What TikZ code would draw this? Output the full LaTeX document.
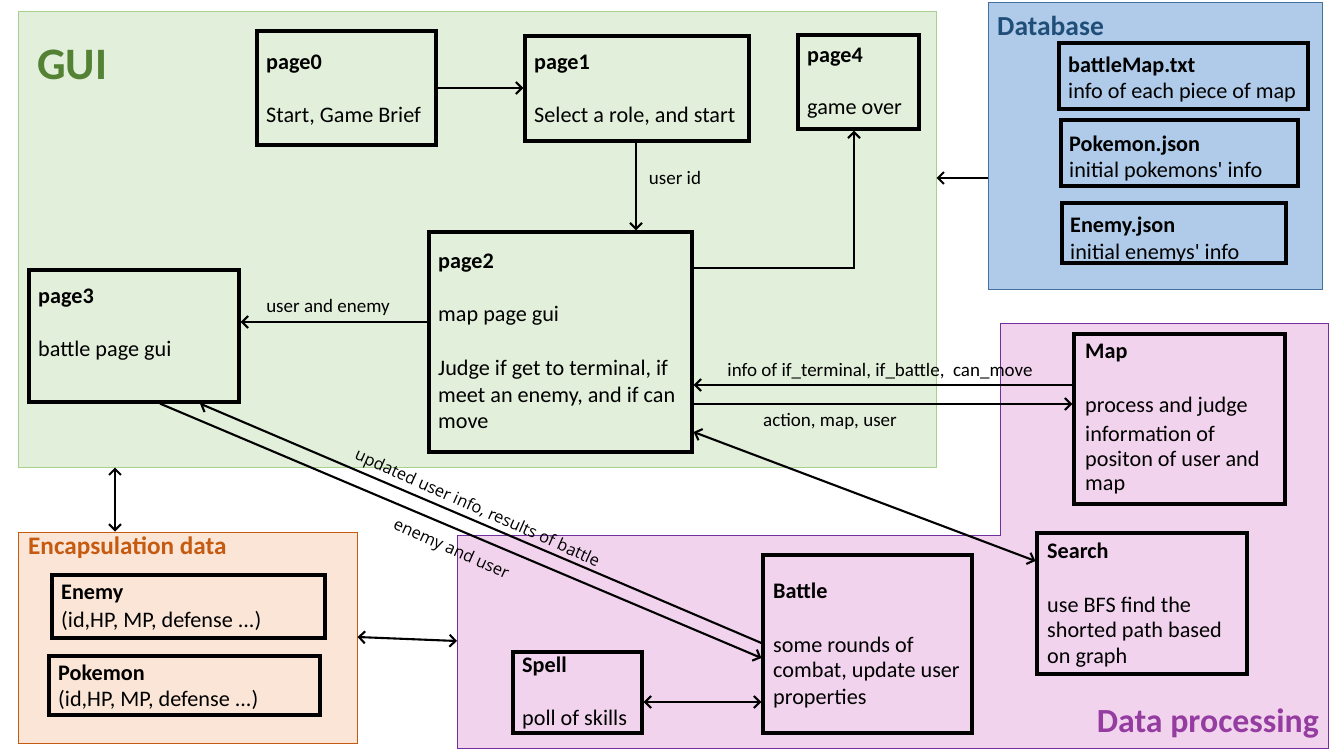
\documentclass[tikz,border=0pt]{standalone}
\usepackage{fontspec}
\setmainfont{Carlito}
\newfontfamily\lblfont{Open Sans}
\usetikzlibrary{arrows.meta}
\definecolor{guifill}{HTML}{E2EFDA}
\definecolor{guiline}{HTML}{A9D18E}
\definecolor{guititle}{HTML}{548235}
\definecolor{dbfill}{HTML}{AFCBE9}
\definecolor{dbline}{HTML}{41719C}
\definecolor{dbtitle}{HTML}{1F4E79}
\definecolor{dpfill}{HTML}{F2D3EE}
\definecolor{dpline}{HTML}{7030A0}
\definecolor{dptitle}{HTML}{943CA0}
\definecolor{enfill}{HTML}{FBE5D6}
\definecolor{enline}{HTML}{C55A11}
\begin{document}
\begin{tikzpicture}[x=1pt,y=-1pt,
  region/.style={draw,line width=1pt,inner sep=0pt},
  box/.style={draw=black,line width=3.2pt,inner sep=0pt},
  txt/.style={anchor=west,inner sep=0pt,font=\fontsize{22.2}{24}\selectfont},
  hdr/.style={anchor=west,inner sep=0pt,font=\fontsize{22.2}{24}\selectfont\bfseries},
  lbl/.style={inner sep=1pt,font=\fontsize{19}{21}\selectfont},
  rlbl/.style={inner sep=1pt,font=\lblfont\fontsize{16.5}{19}\selectfont},
  conn/.style={line width=2.1pt,-{Straight Barb[length=6pt,width=12pt,line width=2.1pt]}},
  dconn/.style={line width=2.1pt,{Straight Barb[length=6pt,width=12pt,line width=2.1pt]}-{Straight Barb[length=6pt,width=12pt,line width=2.1pt]}}]
\useasboundingbox[fill=white] (0,0) rectangle (1341,754);
% regions
\node[region,draw=guiline,fill=guifill,minimum width=918pt,minimum height=455pt] (gui) at (477,239.5) {};
\node[region,draw=dbline,fill=dbfill,minimum width=334pt,minimum height=286pt] (db) at (1155,146) {};
\node[region,draw=enline,fill=enfill,minimum width=339pt,minimum height=211pt] (encap) at (187.5,637.5) {};
\draw[line width=1pt,draw=dpline,fill=dpfill] (1000,323) -- (1328,323) -- (1328,748) -- (457,748) -- (457,535) -- (1000,535) -- cycle;
\coordinate (dpw) at (457,641);
% titles
\node[anchor=west,inner sep=0pt,text=guititle,font=\fontsize{45}{50}\selectfont\bfseries] (tgui) at (37,65) {GUI};
\node[anchor=west,inner sep=0pt,text=dbtitle,font=\fontsize{27.5}{30}\selectfont\bfseries] (tdb) at (997,26) {Database};
\node[anchor=west,inner sep=0pt,text=enline,font=\fontsize{25.2}{28}\selectfont\bfseries] (ten) at (28,548) {Encapsulation data};
\node[anchor=east,inner sep=0pt,text=dptitle,font=\fontsize{33.8}{37}\selectfont\bfseries] (tdp) at (1319,723) {Data processing};
% boxes
\node[box,minimum width=179pt,minimum height=114pt] (page0) at (346.5,88) {};
\node[hdr] (page0h) at (266,64) {page0};
\node[txt] (page0t) at (266,116) {Start, Game Brief};
\node[box,minimum width=224pt,minimum height=105pt] (page1) at (637,88.5) {};
\node[hdr] (page1h) at (534,64) {page1};
\node[txt] (page1t) at (534,116) {Select a role, and start};
\node[box,minimum width=121pt,minimum height=94pt] (page4) at (858.5,82) {};
\node[hdr] (page4h) at (807,57) {page4};
\node[txt] (page4t) at (807,111) {game over};
\node[box,minimum width=263pt,minimum height=220pt] (page2) at (560.5,342) {};
\node[hdr] (page2h) at (438,263) {page2};
\node[txt] (page2t1) at (438,316) {map page gui};
\node[txt] (page2t2) at (438,370) {Judge if get to terminal, if};
\node[txt] (page2t3) at (438,397) {meet an enemy, and if can};
\node[txt] (page2t4) at (438,423) {move};
\node[box,minimum width=210pt,minimum height=132pt] (page3) at (134,336) {};
\node[hdr] (page3h) at (38,298) {page3};
\node[txt] (page3t) at (38,351) {battle page gui};
\node[box,minimum width=249pt,minimum height=66pt] (bmap) at (1183.5,76) {};
\node[hdr] (bmaph) at (1068,66) {battleMap.txt};
\node[txt] (bmapt) at (1068,93) {info of each piece of map};
\node[box,minimum width=237pt,minimum height=66pt] (pjson) at (1179.5,153) {};
\node[hdr] (pjsonh) at (1069,146) {Pokemon.json};
\node[txt] (pjsont) at (1069,172) {initial pokemons\textquotesingle\ info};
\node[box,minimum width=224pt,minimum height=60pt] (ejson) at (1174,233) {};
\node[hdr] (ejsonh) at (1070,227) {Enemy.json};
\node[txt] (ejsont) at (1070,254) {initial enemys\textquotesingle\ info};
\node[box,minimum width=211pt,minimum height=170pt] (map) at (1179.5,419) {};
\node[hdr] (maph) at (1085,353) {Map};
\node[txt] (mapt1) at (1085,407) {process and judge};
\node[txt] (mapt2) at (1085,434) {information of};
\node[txt] (mapt3) at (1085,461) {positon of user and};
\node[txt] (mapt4) at (1085,487) {map};
\node[box,minimum width=210pt,minimum height=141pt] (search) at (1142,603.5) {};
\node[hdr] (searchh) at (1047,551) {Search};
\node[txt] (searcht1) at (1047,605) {use BFS find the};
\node[txt] (searcht2) at (1047,632) {shorted path based};
\node[txt] (searcht3) at (1047,658) {on graph};
\node[box,minimum width=209pt,minimum height=178pt] (battle) at (867.5,644) {};
\node[hdr] (battleh) at (773,591) {Battle};
\node[txt] (battlet1) at (773,645) {some rounds of};
\node[txt] (battlet2) at (773,672) {combat, update user};
\node[txt] (battlet3) at (773,699) {properties};
\node[box,minimum width=129pt,minimum height=81pt] (spell) at (577.5,692.5) {};
\node[hdr] (spellh) at (522,666) {Spell};
\node[txt] (spellt) at (522,720) {poll of skills};
\node[box,minimum width=273pt,minimum height=63pt] (enemy) at (188.5,606.5) {};
\node[hdr] (enemyh) at (61,594) {Enemy};
\node[txt] (enemyt) at (61,621) {(id,HP, MP, defense ...)};
\node[box,minimum width=271pt,minimum height=59pt] (pokemon) at (184.5,685.5) {};
\node[hdr] (pokemonh) at (58,673) {Pokemon};
\node[txt] (pokemont) at (58,700) {(id,HP, MP, defense ...)};
% connectors
\draw[conn] (page0.east |- 0,88) -- (page1.west |- 0,88);
\draw[conn] (page1.south -| 636,0) -- (page2.north -| 636,0);
\node[lbl] (luid) at (675,178) {user id};
\draw[conn] (page2.east |- 0,268) -| (page4.south -| 854,0);
\draw[conn] (page2.west |- 0,322) -- (page3.east |- 0,322);
\node[lbl] (lue) at (328,307) {user and enemy};
\draw[conn] (db.west |- 0,178) -- (gui.east |- 0,178);
\draw[conn] (map.west |- 0,385) -- (page2.east |- 0,385);
\node[lbl] (linfo) at (880,371) {info of if\_terminal, if\_battle,\ \ can\_move};
\draw[conn] (page2.east |- 0,404) -- (map.west |- 0,404);
\node[lbl] (lact) at (830,421) {action, map, user};
\draw[dconn] (page2.east |- 0,432) -- (search.west |- 0,561);
\draw[conn] (page3.south -| 160,0) -- (battle.west |- 0,658);
\draw[conn] (battle.west |- 0,643) -- (page3.south -| 200,0);
\node[rlbl,rotate=-24] (lupd) at (477,509) {updated user info, results of battle};
\node[rlbl,rotate=-24] (leu) at (451,550) {enemy and user};
\draw[dconn] (gui.south -| 115,0) -- (encap.north -| 115,0);
\draw[dconn] (encap.east |- 0,637) -- (dpw);
\draw[dconn] (spell.east |- 0,702) -- (battle.west |- 0,702);
\end{tikzpicture}
\end{document}
